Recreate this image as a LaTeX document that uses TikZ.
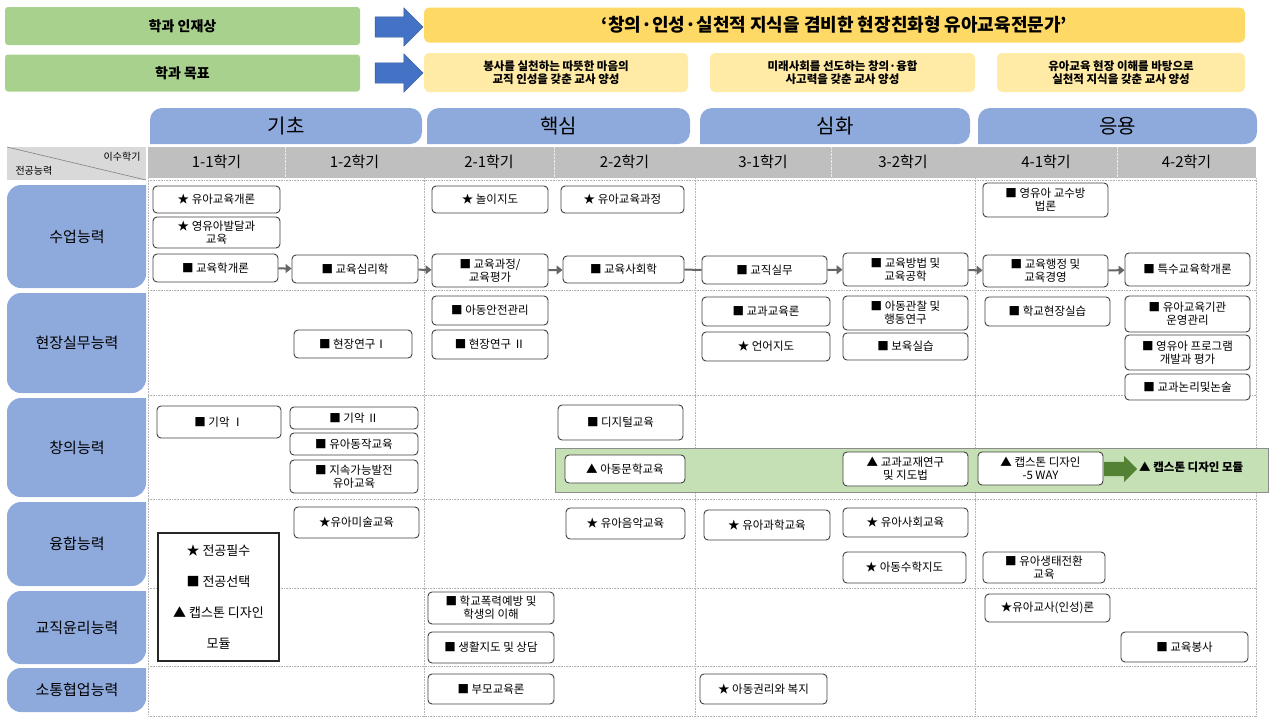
\documentclass[tikz,border=0pt]{standalone}
\usepackage{fontspec}
\setmainfont{Noto Sans CJK KR}
\usetikzlibrary{arrows.meta,shapes.arrows}
\definecolor{tabblue}{HTML}{8EA9DB}
\definecolor{hgray}{HTML}{BFBFBF}
\definecolor{lgray}{HTML}{D9D9D9}
\definecolor{hgreen}{HTML}{A9D18E}
\definecolor{bgreen}{HTML}{C5E0B4}
\definecolor{dgreen}{HTML}{548235}
\definecolor{ttl}{HTML}{FFD966}
\definecolor{goal}{HTML}{FFEBA6}
\definecolor{aro}{HTML}{4472C4}
\newcommand\bx[6]{\node[box,minimum width={#4pt-#2pt},minimum height={#5pt-#3pt}] (#1) at ({(#2+#4)/2},{(#3+#5)/2}) {#6};}
\newcommand\tab[6]{\fill[tabblue,rounded corners=12pt] (#2,#5) -- (#2,#3) -- (#4,#3) -- (#4,#5) [sharp corners]-- cycle;
 \node[font=\fontsize{20}{22}\selectfont] (#1) at ({(#2+#4)/2},{(#3+#5)/2}) {#6};}
\newcommand\lab[5]{\fill[tabblue,rounded corners=14pt] (146,#2) -- (7,#2) -- (7,#3) -- (146,#3) [sharp corners] -- cycle;
 \node[font=\fontsize{15}{17}\selectfont] (#1) at (77,{(#2+#3)/2}) {#4};}
\begin{document}
\begin{tikzpicture}[x=1pt,y=-1pt,
 box/.style={draw=black!75,line width=0.9pt,rounded corners=4pt,fill=white,align=center,font=\fontsize{11.5}{13}\selectfont,inner sep=0pt},
 hbox/.style={fill=hgreen,rounded corners=3pt,font=\fontsize{14}{16}\bfseries\selectfont,inner sep=0pt},
 gbox/.style={fill=goal,rounded corners=5pt,align=center,font=\fontsize{11.5}{13.5}\bfseries\selectfont,inner sep=0pt},
 conn/.style={draw=black!60,line width=2pt,-{Triangle[length=6pt,width=9pt]}},
 barrow/.style={single arrow,fill=aro,minimum height=48pt,single arrow head extend=9pt,inner sep=0pt,draw=aro!80!black},
 grid/.style={draw=black!30,densely dotted,line width=0.6pt}]
\useasboundingbox (0,0) rectangle (1280,721);
% header
\node[hbox,minimum width=355pt,minimum height=38pt] (h1) at (182.5,26) {학과 인재상};
\node[hbox,minimum width=355pt,minimum height=37pt] (h2) at (182.5,73) {학과 목표};
\node[barrow] (a1) at (394,27) {\rule{0pt}{20pt}};
\node[barrow] (a2) at (394,73) {\rule{0pt}{20pt}};
\node[fill=ttl,rounded corners=5pt,minimum width=821pt,minimum height=35pt,font=\fontsize{18}{20}\bfseries\selectfont] (t) at (834.5,25) {‘창의·인성·실천적 지식을 겸비한 현장친화형 유아교육전문가’};
\node[gbox,minimum width=264pt,minimum height=39pt] (g1) at (556,72.5) {봉사를 실천하는 따뜻한 마음의\\교직 인성을 갖춘 교사 양성};
\node[gbox,minimum width=265pt,minimum height=39pt] (g2) at (842.5,72.5) {미래사회를 선도하는 창의·융합\\사고력을 갖춘 교사 양성};
\node[gbox,minimum width=248pt,minimum height=39pt] (g3) at (1121,72.5) {유아교육 현장 이해를 바탕으로\\실천적 지식을 갖춘 교사 양성};
% tabs
\tab{p1}{150}{108}{422}{144}{기초}
\tab{p2}{427}{108}{690}{144}{핵심}
\tab{p3}{700}{108}{970}{144}{심화}
\tab{p4}{978}{108}{1257}{144}{응용}
% semester header
\fill[hgray] (148,147) rectangle (1256,178);
\fill[lgray] (7,147) rectangle (146,180);
\draw[black!50,line width=0.6pt] (7,147) -- (146,180);
\node[font=\fontsize{10}{12}\selectfont,anchor=east] (sh1) at (144,157) {이수학기};
\node[font=\fontsize{10}{12}\selectfont,anchor=west] (sh2) at (12,171) {전공능력};
\foreach \x/\t in {216.5/1-1학기,354.5/1-2학기,489/2-1학기,624.5/2-2학기,763/3-1학기,903/3-2학기,1046/4-1학기,1186.5/4-2학기}
 \node[font=\fontsize{15}{17}\selectfont] at (\x,162) {\t};
\foreach \x in {285,554,831,1117} \draw[white!85!gray,densely dotted] (\x,147) -- (\x,178);
% grid
\foreach \y in {180,290,395,499,588,666,716} \draw[grid] (148,\y) -- (1256,\y);
\foreach \x in {148,424,695,975,1256} \draw[grid] (\x,178) -- (\x,716);
% left labels
\lab{r1}{185}{288}{수업능력}{}
\lab{r2}{293}{393}{현장실무능력}{}
\lab{r3}{398}{497}{창의능력}{}
\lab{r4}{502}{586}{융합능력}{}
\lab{r5}{591}{664}{교직윤리능력}{}
\lab{r6}{668}{712}{소통협업능력}{}
% green band
\fill[bgreen,draw=black!45,line width=1pt] (555,448) rectangle (1268,492);
% row 1
\bx{b1}{153}{186}{280}{213}{★ 유아교육개론}
\bx{b2}{153}{217}{280}{248}{★ 영유아발달과\\교육}
\bx{b3}{153}{254}{278}{282}{■ 교육학개론}
\bx{b4}{292}{255}{418}{283}{■ 교육심리학}
\bx{b5}{432}{254}{548}{287}{■ 교육과정/\\교육평가}
\bx{b6}{563}{256}{684}{283}{■ 교육사회학}
\bx{b7}{432}{186}{548}{213}{★ 놀이지도}
\bx{b8}{561}{186}{684}{213}{★ 유아교육과정}
\bx{b9}{702}{256}{827}{284}{■ 교직실무}
\bx{b10}{843}{253}{968}{286}{■ 교육방법 및\\교육공학}
\bx{b11}{983}{255}{1108}{287}{■ 교육행정 및\\교육경영}
\bx{b12}{1125}{253}{1250}{286}{■ 특수교육학개론}
\bx{b13}{983}{183}{1108}{217}{■ 영유아 교수방\\법론}
\draw[conn] (b3) -- (b4);
\draw[conn] (b4) -- (b5);
\draw[conn] (b5) -- (b6);
\draw[draw=black!60,line width=2pt] (b6) -- (b9);
\draw[conn] (b9) -- (b10);
\draw[conn] (b10) -- (b11);
\draw[conn] (b11) -- (b12);
% row 2
\bx{c1}{432}{296}{548}{325}{■ 아동안전관리}
\bx{c2}{432}{330}{548}{359}{■ 현장연구 Ⅱ}
\bx{c3}{294}{330}{412}{358}{■ 현장연구Ⅰ}
\bx{c4}{702}{297}{830}{326}{■ 교과교육론}
\bx{c5}{702}{332}{830}{361}{★ 언어지도}
\bx{c6}{843}{296}{968}{330}{■ 아동관찰 및\\행동연구}
\bx{c7}{843}{333}{968}{360}{■ 보육실습}
\bx{c8}{985}{297}{1110}{326}{■ 학교현장실습}
\bx{c9}{1125}{296}{1250}{332}{■ 유아교육기관\\운영관리}
\bx{c10}{1125}{335}{1250}{370}{■ 영유아 프로그램\\개발과 평가}
\bx{c11}{1125}{374}{1250}{400}{■ 교과논리및논술}
% row 3
\bx{d1}{157}{406}{281}{438}{■ 기악 Ⅰ}
\bx{d2}{290}{407}{418}{429}{■ 기악 Ⅱ}
\bx{d3}{290}{433}{418}{455}{■ 유아동작교육}
\bx{d4}{290}{460}{418}{493}{■ 지속가능발전\\유아교육}
\bx{d5}{558}{405}{683}{440}{■ 디지털교육}
\bx{d6}{565}{455}{685}{483}{▲ 아동문학교육}
\bx{d7}{843}{452}{968}{486}{▲ 교과교재연구\\및 지도법}
\bx{d8}{978}{452}{1103}{485}{▲ 캡스톤 디자인\\-5 WAY}
\node[single arrow,fill=dgreen,minimum height=33pt,single arrow head extend=6pt,inner sep=0pt,anchor=west] (ga) at (1104,469) {\rule{0pt}{14pt}};
\node[font=\fontsize{11.5}{13}\bfseries\selectfont,anchor=west,inner sep=0pt] (cm) at (1139,467) {▲ 캡스톤 디자인 모듈};
% row 4
\bx{e1}{294}{507}{419}{538}{★유아미술교육}
\bx{e2}{566}{508}{685}{539}{★ 유아음악교육}
\bx{e3}{704}{510}{830}{540}{★ 유아과학교육}
\bx{e4}{843}{508}{968}{537}{★ 유아사회교육}
\bx{e5}{843}{552}{966}{583}{★ 아동수학지도}
\bx{e6}{983}{552}{1105}{583}{■ 유아생태전환\\교육}
\node[draw=black!85,line width=1.5pt,fill=white,minimum width=121pt,minimum height=128pt,align=center,font=\fontsize{13}{31}\selectfont,inner sep=0pt] (leg) at (218.5,597) {★ 전공필수\\■ 전공선택\\▲ 캡스톤 디자인\\모듈};
% row 5
\bx{f1}{428}{592}{554}{624}{■ 학교폭력예방 및\\학생의 이해}
\bx{f2}{428}{632}{554}{663}{■ 생활지도 및 상담}
\bx{f3}{985}{594}{1110}{622}{★유아교사(인성)론}
\bx{f4}{1121}{632}{1248}{662}{■ 교육봉사}
% row 6
\bx{g1b}{428}{674}{554}{704}{■ 부모교육론}
\bx{g2b}{700}{674}{827}{704}{★ 아동권리와 복지}
\end{tikzpicture}
\end{document}
